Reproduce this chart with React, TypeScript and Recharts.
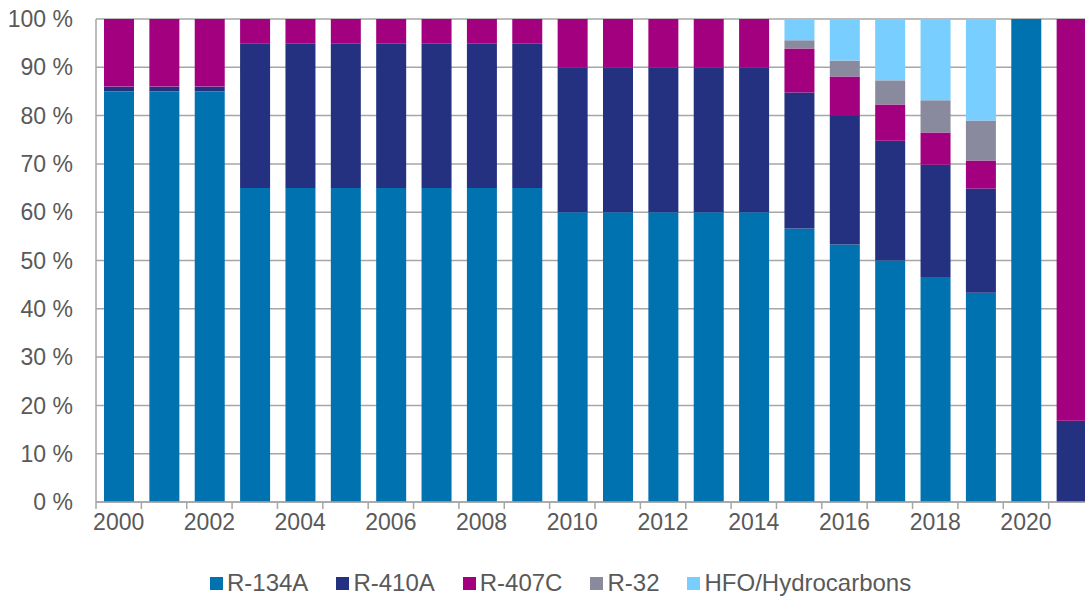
import { Bar, BarChart, CartesianGrid, Legend, XAxis, YAxis } from "recharts"

const years = [
  "2000", "2001", "2002", "2003", "2004", "2005", "2006", "2007", "2008", "2009", "2010",
  "2011", "2012", "2013", "2014", "2015", "2016", "2017", "2018", "2019", "2020", "2021",
]

const r134a = [85, 85, 85, 65, 65, 65, 65, 65, 65, 65, 60, 60, 60, 60, 60, 56.6, 53.3, 50, 46.6, 43.3, 100, 0]
const r410a = [1, 1, 1, 30, 30, 30, 30, 30, 30, 30, 30, 30, 30, 30, 30, 28.2, 26.6, 24.8, 23.2, 21.6, 0, 16.8]
const r407c = [14, 14, 14, 5, 5, 5, 5, 5, 5, 5, 10, 10, 10, 10, 10, 9.1, 8.2, 7.5, 6.7, 5.8, 0, 83.2]
const r32 = [0, 0, 0, 0, 0, 0, 0, 0, 0, 0, 0, 0, 0, 0, 0, 1.7, 3.3, 5.0, 6.7, 8.3, 0, 0]
const hfo = [0, 0, 0, 0, 0, 0, 0, 0, 0, 0, 0, 0, 0, 0, 0, 4.4, 8.6, 12.7, 16.8, 21.0, 0, 0]

const yTicks = [0, 10, 20, 30, 40, 50, 60, 70, 80, 90, 100]

const series = [
  { key: "r134a", name: "R-134A", color: "#0072B0" },
  { key: "r410a", name: "R-410A", color: "#243080" },
  { key: "r407c", name: "R-407C", color: "#A2007F" },
  { key: "r32", name: "R-32", color: "#8A8A9E" },
  { key: "hfo", name: "HFO/Hydrocarbons", color: "#78CFFF" },
]

const data = years.map((year, i) => ({
  year,
  r134a: r134a[i],
  r410a: r410a[i],
  r407c: r407c[i],
  r32: r32[i],
  hfo: hfo[i],
}))

const FONT = "'Liberation Sans', Arial, sans-serif"
const TEXT = "#595959"
const GRID = "#a6a6a6"
const PLOT_LEFT = 96
const PLOT_WIDTH = 998
const BAND = PLOT_WIDTH / years.length

function YearTick(props: any) {
  const { x, y, payload, index } = props
  const axisY = y - 12
  const left = x - BAND / 2
  return (
    <g>
      <line x1={left} x2={left} y1={axisY} y2={axisY + 7} stroke={GRID} strokeWidth={1.5} />
      {index % 2 === 0 && (
        <text x={x} y={y} dy="0.71em" textAnchor="middle" fill={TEXT} fontSize={23} fontFamily={FONT}>
          {payload.value}
        </text>
      )}
    </g>
  )
}

function LegendContent() {
  return (
    <div
      style={{
        height: 40,
        boxSizing: "border-box",
        paddingTop: 10,
        paddingLeft: 210,
        display: "flex",
        alignItems: "center",
        fontFamily: FONT,
        fontSize: 24,
        color: TEXT,
        whiteSpace: "nowrap",
      }}
    >
      {series.map((s) => (
        <span key={s.key} style={{ display: "flex", alignItems: "center", marginRight: 28 }}>
          <span style={{ width: 13, height: 13, background: s.color, marginRight: 4, display: "inline-block" }} />
          <span>{s.name}</span>
        </span>
      ))}
    </div>
  )
}

export default function App() {
  return (
    <div style={{ position: "absolute", left: 0, top: 0, width: 1085, height: 598, overflow: "hidden", background: "#fff" }}>
      <BarChart
        width={PLOT_LEFT + PLOT_WIDTH}
        height={598}
        data={data}
        margin={{ top: 19, right: 0, left: 0, bottom: 0 }}
        barSize={30}
      >
        <CartesianGrid vertical={false} stroke={GRID} strokeWidth={1.5} />
        <XAxis
          dataKey="year"
          interval={0}
          height={56}
          tickSize={0}
          tickMargin={12}
          tickLine={false}
          axisLine={{ stroke: GRID, strokeWidth: 1.5 }}
          tick={<YearTick />}
        />
        <YAxis
          width={PLOT_LEFT}
          domain={[0, 100]}
          ticks={yTicks}
          tickFormatter={(v) => `${v} %`}
          tickSize={0}
          tickMargin={23}
          tickLine={false}
          axisLine={{ stroke: GRID, strokeWidth: 1.5 }}
          tick={{ fill: TEXT, fontSize: 23, fontFamily: FONT }}
          interval={0}
        />
        <Legend verticalAlign="bottom" content={<LegendContent />} />
        {series.map((s) => (
          <Bar key={s.key} dataKey={s.key} name={s.name} stackId="a" fill={s.color} isAnimationActive={false} />
        ))}
      </BarChart>
    </div>
  )
}
